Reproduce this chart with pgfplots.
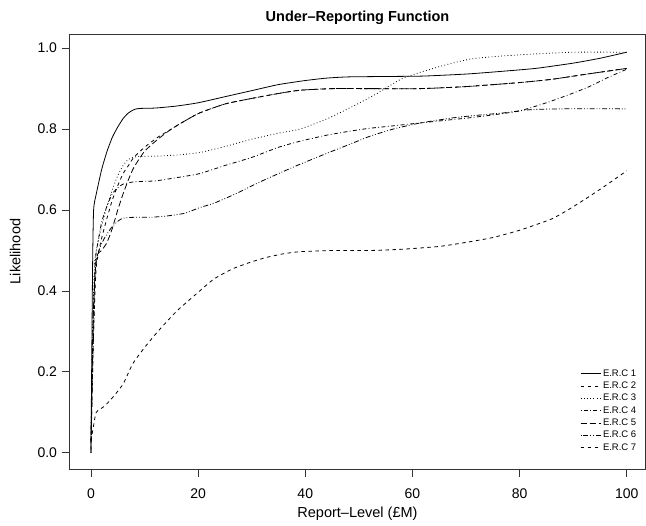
\documentclass[border=0pt]{standalone}
\usepackage{fontspec}
\setmainfont{Liberation Sans}
\usepackage{pgfplots}
\pgfplotsset{compat=1.18}
\usetikzlibrary{calc}

\begin{document}
\begin{tikzpicture}
\begin{axis}[
  name=ax,
  scale only axis,
  width=576pt, height=435pt,
  xmin=-4, xmax=103.5,
  ymin=-0.04, ymax=1.035,
  xtick={0,20,40,60,80,100},
  ytick={0,0.2,0.4,0.6,0.8,1.0},
  yticklabel style={xshift=-1pt, /pgf/number format/.cd, fixed, fixed zerofill, precision=1},
  /pgf/number format/assume math mode=true,
  tick pos=left,
  tick align=outside,
  major tick length=8pt,
  axis line style={black!80, line width=0.8pt},
  every tick/.style={black!80, line width=0.8pt},
  tick label style={font=\fontsize{14}{16}\selectfont},
  xticklabel style={yshift=-8pt},
  label style={font=\fontsize{14.5}{17}\selectfont},
  xlabel style={yshift=-2pt},
  ylabel style={yshift=10pt},
  title style={font=\bfseries\fontsize{14.5}{17}\selectfont},
  title={Under--Reporting Function},
  xlabel={Report--Level (\pounds M)},
  ylabel={Likelihood},
  legend cell align=left,
  legend style={at={(rel axis cs:0.993,0.03)}, anchor=south east, draw=none, fill=none,
    font=\fontsize{9.5}{10}\selectfont, row sep=0.2pt},
  legend image code/.code={\draw[#1] (0pt,0pt) -- (20pt,0pt);},
  every axis plot/.append style={black, line width=0.8pt, smooth, tension=0.35},
]
% ERC 1
\addplot[solid] coordinates {
(0,0) (0.3,0.45) (0.5,0.6) (1,0.64) (2,0.70) (3,0.745) (4,0.78) (5,0.805) (6,0.826) (7,0.84) (8,0.848) (9,0.851) (12,0.852) (16,0.857) (20,0.865) (25,0.88) (30,0.895) (35,0.91) (40,0.92) (44,0.926) (48,0.929) (55,0.93) (62,0.931) (70,0.936) (76,0.942) (83,0.950) (90,0.963) (95,0.975) (100,0.99)
};
\addlegendentry{E.R.C 1}
% ERC 2
\addplot[dash pattern=on 3.5pt off 3.5pt] coordinates {
(0,0.03) (0.4,0.06) (1,0.10) (2.5,0.115) (4,0.136) (6,0.17) (7.8,0.22) (10,0.26) (12.5,0.30) (16,0.35) (20.3,0.40) (23,0.43) (26.5,0.455) (30,0.472) (32.8,0.483) (36,0.492) (39,0.497) (45,0.50) (52,0.50) (58,0.503) (65,0.51) (70,0.52) (75,0.532) (80,0.55) (85.8,0.577) (89,0.60) (92.6,0.63) (96,0.66) (100,0.697)
};
\addlegendentry{E.R.C 2}
% ERC 3
\addplot[dash pattern=on 0.8pt off 2.4pt] coordinates {
(0,0) (0.3,0.3) (0.7,0.47) (1.3,0.52) (2,0.56) (3,0.61) (4,0.65) (5,0.685) (6,0.71) (7,0.725) (8.5,0.732) (12,0.733) (16,0.736) (20.3,0.742) (25,0.757) (30,0.775) (35,0.79) (39,0.80) (44,0.825) (48.4,0.853) (53,0.885) (57.8,0.923) (61.4,0.94) (66,0.958) (70.8,0.973) (76,0.98) (82,0.985) (90,0.99) (100,0.99)
};
\addlegendentry{E.R.C 3}
% ERC 4
\addplot[dash pattern=on 0.8pt off 2.4pt on 4pt off 2.4pt] coordinates {
(0,0.05) (0.4,0.3) (0.8,0.47) (1.3,0.52) (2,0.57) (3,0.61) (4,0.64) (5,0.655) (6,0.664) (8.2,0.67) (12,0.672) (16,0.68) (20.3,0.69) (25,0.71) (30,0.73) (35,0.755) (39,0.77) (44,0.785) (48.4,0.795) (52,0.802) (56.4,0.808) (62,0.816) (70,0.827) (75,0.835) (80,0.845) (85,0.865) (89.4,0.886) (93,0.905) (96.4,0.927) (100,0.948)
};
\addlegendentry{E.R.C 4}
% ERC 5
\addplot[dash pattern=on 6pt off 3pt] coordinates {
(0,0) (0.4,0.33) (1,0.48) (2,0.50) (3,0.52) (4,0.555) (5,0.60) (6,0.64) (7,0.675) (8,0.705) (10,0.745) (12.5,0.775) (15,0.80) (17.5,0.82) (20.3,0.84) (25,0.862) (29.7,0.875) (35,0.888) (39,0.896) (45,0.90) (52,0.90) (61.4,0.90) (70,0.905) (80,0.915) (86,0.923) (92.6,0.936) (100,0.95)
};
\addlegendentry{E.R.C 5}
% ERC 6
\addplot[dash pattern=on 0.8pt off 2pt on 5pt off 2pt on 0.8pt off 2pt] coordinates {
(0,0.02) (0.4,0.25) (0.8,0.45) (1.5,0.50) (2.5,0.53) (3.8,0.556) (5,0.572) (6,0.58) (8,0.582) (11,0.582) (14,0.585) (17.5,0.592) (20.3,0.606) (23,0.617) (27,0.64) (31,0.666) (35,0.69) (39,0.713) (44,0.74) (48.4,0.763) (52,0.782) (56.4,0.80) (61.4,0.815) (67.7,0.828) (72,0.834) (77,0.84) (82,0.848) (88,0.85) (100,0.85)
};
\addlegendentry{E.R.C 6}
% ERC 7
\addplot[dash pattern=on 3.5pt off 3.5pt] coordinates {
(0,0.01) (0.5,0.3) (1,0.46) (2,0.53) (3,0.58) (4,0.625) (5,0.66) (6,0.69) (7,0.71) (8,0.73) (10,0.755) (12.5,0.78) (15,0.80) (17.5,0.82) (20.3,0.84) (25,0.862) (29.7,0.875) (35,0.888) (39,0.896) (45,0.90) (52,0.90) (61.4,0.90) (70,0.905) (80,0.915) (86,0.923) (92.6,0.936) (100,0.95)
};
\addlegendentry{E.R.C 7}
\end{axis}
\pgfresetboundingbox
\path[use as bounding box] ($(ax.south west)+(-69.5pt,-56pt)$) rectangle ($(ax.north east)+(0.5pt,34pt)$);
\end{tikzpicture}
\end{document}
